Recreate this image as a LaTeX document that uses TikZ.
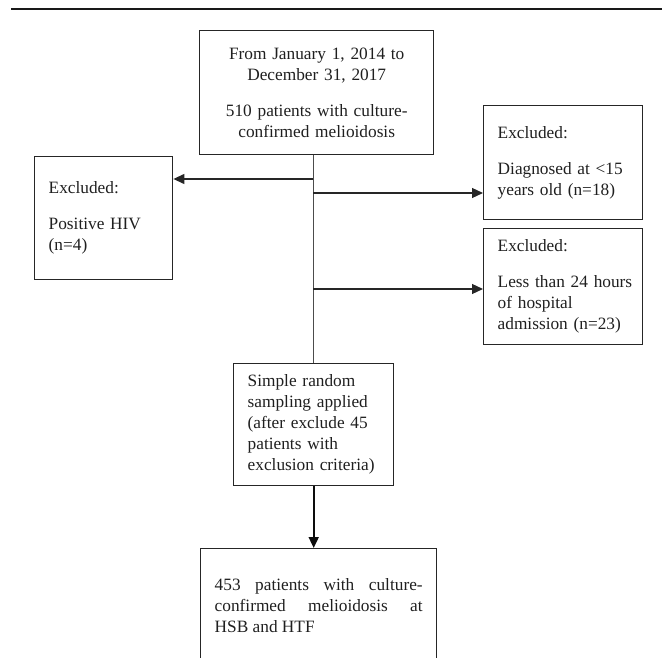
\documentclass[tikz,border=0pt]{standalone}
\usepackage{fontspec}
\setmainfont{Liberation Serif}
\usetikzlibrary{arrows.meta}
\begin{document}
\begin{tikzpicture}[x=1pt,y=-1pt,
  box/.style={draw=black!85, line width=1.4pt, inner xsep=14pt, inner ysep=0pt,
    anchor=north west, text=black!88,
    font=\fontsize{17.3}{21}\selectfont},
  arr/.style={draw=black!85, line width=1.2pt, -{Triangle[length=11pt,width=10pt]}},
  trunk/.style={draw=black!70, line width=1pt}]
\clip (0,0) rectangle (662,658);
\coordinate (ruleL) at (11,9);
\coordinate (ruleR) at (662,9);
\draw[black!90, line width=2.2pt] (ruleL) -- (ruleR);

\node[box, align=center, text width=206pt, minimum width=234pt, minimum height=124pt] (top) at (199,30)
  {From January 1, 2014 to\\December 31, 2017\\[15pt]510 patients with culture-\\confirmed melioidosis};
\node[box, align=left, text width=110pt, minimum width=138pt, minimum height=123pt] (hiv) at (34,156)
  {Excluded:\\[15pt]Positive HIV\\(n=4)};
\node[box, align=left, text width=131pt, minimum width=159pt, minimum height=114pt] (ex1) at (483,105)
  {Excluded:\\[15pt]Diagnosed at <15\\years old (n=18)\\[4pt]};
\node[box, align=left, text width=131pt, minimum width=159pt, minimum height=116pt] (ex2) at (483,228)
  {Excluded:\\[15pt]\mbox{Less than 24 hours}\\of hospital\\admission (n=23)};
\node[box, align=left, text width=132pt, minimum width=160pt, minimum height=122pt] (samp) at (233,363)
  {Simple random\\sampling applied\\(after exclude 45\\patients with\\exclusion criteria)};
\node[box, align=justify, text width=208pt, minimum width=236pt, minimum height=114pt] (final) at (200,548)
  {453 patients with culture-\linebreak confirmed melioidosis at\linebreak HSB and HTF};

\coordinate (jL) at (313,179);
\coordinate (jR1) at (313,193);
\coordinate (jR2) at (313,289);
\draw[trunk] (top.south -| samp.north) -- (samp.north);
\draw[arr] (jL) -- (jL -| hiv.east);
\draw[arr] (jR1) -- (jR1 -| ex1.west);
\draw[arr] (jR2) -- (jR2 -| ex2.west);
\draw[arr, line width=1.8pt, draw=black!95] (samp.south) -- (samp.south |- final.north);
\end{tikzpicture}
\end{document}
